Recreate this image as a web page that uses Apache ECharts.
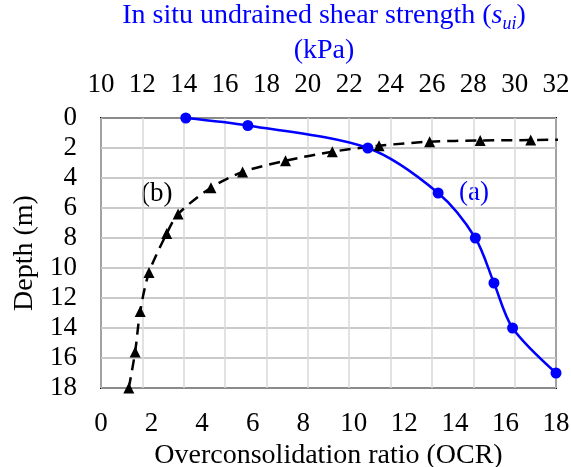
<!DOCTYPE html>
<html><head><meta charset="utf-8">
<script src="https://cdn.jsdelivr.net/npm/echarts@6/dist/echarts.min.js"></script>
<style>html,body{margin:0;padding:0;background:#fff}#c{width:571px;height:467px}</style>
</head><body><div id="c"></div>
<script>
// Series (a): in situ undrained shear strength (kPa) vs depth (m)
const suiKPa   = [14.1, 17.1, 22.9, 26.3, 28.1, 29.0, 29.9, 32.0];
const suiDepth = [0, 0.5, 2.0, 5.0, 8.0, 11.0, 14.0, 17.0];
// Series (b): OCR vs depth (m)
const ocrVals  = [1.1, 1.35, 1.55, 1.9, 2.6, 3.05, 4.35, 5.6, 7.3, 9.15, 11.0, 13.0, 15.0, 17.0, 19.5];
const ocrDepth = [18.0, 15.6, 12.9, 10.3, 7.7, 6.4, 4.65, 3.6, 2.85, 2.25, 1.85, 1.58, 1.5, 1.47, 1.42];
// Tick setup
const ocrTicks = {min: 0, max: 18, step: 2};
const kpaTicks = {min: 10, max: 32, step: 2};
const depthTicks = {min: 0, max: 18, step: 2};

const FONT = '"Liberation Serif", "Times New Roman", serif';
const chart = echarts.init(document.getElementById('c'), null, {renderer: 'canvas'});
chart.setOption({
  animation: false,
  backgroundColor: '#fff',
  title: {
    left: 324, top: -2, textAlign: 'center', padding: 0,
    text: '{t|In situ undrained shear strength (}{i|s}{sub|ui}{t|)}\n{t|(kPa)}',
    textStyle: {
      fontWeight: 'normal',
      rich: {
        t: {fontFamily: FONT, fontSize: 28, fontWeight: 'normal', color: '#0000ff', lineHeight: 35},
        i: {fontFamily: FONT, fontSize: 28, fontWeight: 'normal', color: '#0000ff', fontStyle: 'italic', lineHeight: 35},
        sub: {fontFamily: FONT, fontSize: 18, fontWeight: 'normal', color: '#0000ff', fontStyle: 'italic', lineHeight: 35, verticalAlign: 'bottom', padding: [12, 0, 0, 0]}
      }
    }
  },
  grid: {left: 101, right: 15, top: 118, bottom: 79, show: true, borderColor: '#000', borderWidth: 2,
         backgroundColor: 'transparent', containLabel: false, outerBoundsMode: 'none'},
  xAxis: [
    {
      type: 'value', position: 'bottom', min: ocrTicks.min, max: ocrTicks.max, interval: ocrTicks.step,
      name: 'Overconsolidation ratio (OCR)', nameLocation: 'middle', nameGap: 48,
      nameTextStyle: {fontFamily: FONT, fontSize: 28, color: '#000'},
      axisLine: {show: false}, axisTick: {show: false}, splitLine: {show: false},
      axisLabel: {fontFamily: FONT, fontSize: 27, color: '#000', margin: 22}
    },
    {
      type: 'value', position: 'top', min: kpaTicks.min, max: kpaTicks.max, interval: kpaTicks.step,
      axisLine: {show: false}, axisTick: {show: false},
      splitLine: {show: true, lineStyle: {color: '#d9d9d9', width: 1.5}},
      axisLabel: {fontFamily: FONT, fontSize: 27, color: '#000', margin: 20}
    }
  ],
  yAxis: {
    type: 'value', inverse: true, min: depthTicks.min, max: depthTicks.max, interval: depthTicks.step,
    name: 'Depth (m)', nameLocation: 'middle', nameGap: 62, nameRotate: 90,
    nameTextStyle: {fontFamily: FONT, fontSize: 28, color: '#000'},
    axisLine: {show: false}, axisTick: {show: false},
    splitLine: {show: true, lineStyle: {color: '#b8b8b8', width: 1.5}},
    axisLabel: {fontFamily: FONT, fontSize: 27, color: '#000', margin: 24}
  },
  series: [
    {
      name: '(b)', type: 'line', xAxisIndex: 0, smooth: 0.3, clip: true,
      data: ocrVals.map((v, i) => [v, ocrDepth[i]]),
      symbol: 'triangle', symbolSize: 11,
      lineStyle: {color: '#000', width: 2.5, type: [11, 7]},
      itemStyle: {color: '#000'}
    },
    {
      name: '(a)', type: 'line', xAxisIndex: 1, smooth: 0.3, clip: false,
      data: suiKPa.map((v, i) => [v, suiDepth[i]]),
      symbol: 'circle', symbolSize: 11,
      lineStyle: {color: '#0000ff', width: 2.5},
      itemStyle: {color: '#0000ff'}
    }
  ],
  graphic: [
    {type: 'text', left: 141, top: 180, style: {text: '(b)', font: '27px ' + FONT, fill: '#000'}},
    {type: 'text', left: 459, top: 179, style: {text: '(a)', font: '27px ' + FONT, fill: '#0000ff'}}
  ]
});
</script></body></html>
